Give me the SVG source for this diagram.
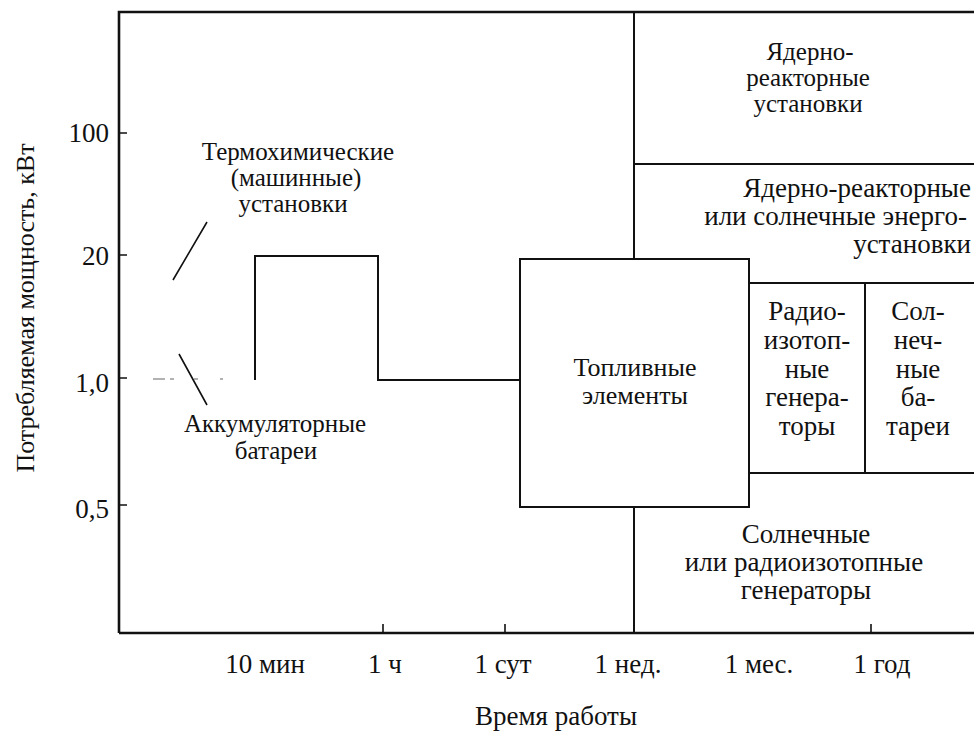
<svg xmlns="http://www.w3.org/2000/svg" width="974" height="733" viewBox="0 0 974 733">
<style>
text{font-family:'Liberation Serif','DejaVu Serif','Times New Roman',serif;font-size:27px;fill:#111}
.s{font-size:25px}
.m{font-size:26px}
.c{text-anchor:middle}
.e{text-anchor:end}
.ax{stroke:#111;stroke-width:2.6;fill:none}
.ln{stroke:#111;stroke-width:2;fill:none}
.th{stroke:#111;stroke-width:1.6;fill:none}
.ds{stroke:#999;stroke-width:1.6;fill:none}
</style>
<rect width="974" height="733" fill="#fff"/>
<g id="axes">
<path class="ax" d="M119,633 V12 H974 M119,633 H974"/>
<path class="th" d="M119,133 h8 M119,255 h8 M119,378 h8 M119,505 h8 M383,633 v-9 M505,633 v-9 M871,633 v-9"/>
<text class="e" x="109" y="142">100</text>
<text class="e" x="109" y="265">20</text>
<text class="e" x="109" y="392">1,0</text>
<text class="e" x="109" y="518">0,5</text>
<text class="c" x="265" y="673">10 мин</text>
<text class="c" x="385" y="673">1 ч</text>
<text class="c" x="503" y="673">1 сут</text>
<text class="c" x="628" y="673">1 нед.</text>
<text class="c" x="759" y="673">1 мес.</text>
<text class="c" x="882" y="673">1 год</text>
<text class="c" x="556" y="725">Время работы</text>
<text class="c m" transform="translate(34,308) rotate(-90)">Потребляемая мощность, кВт</text>
</g>
<g id="regions">
<path class="ln" d="M634,12 V259 M634,507 V633 M634,164 H974 M749,283 H974 M865,283 V473 M749,473 H974"/>
</g>
<g id="thermochem">
<text class="c s" x="298" y="160">Термохимические</text>
<text class="c s" x="296" y="186">(машинные)</text>
<text class="c s" x="293" y="212">установки</text>
</g>
<g id="batteries">
<text class="c s" x="275" y="432">Аккумуляторные</text>
<text class="c s" x="276" y="459">батареи</text>
</g>
<g id="fuel-cells">
<rect class="ln" x="520" y="259" width="229" height="248"/>
<text class="c m" x="635" y="376">Топливные</text>
<text class="c m" x="635" y="404">элементы</text>
</g>
<g id="nuclear">
<text class="c s" x="810" y="60">Ядерно-</text>
<text class="c s" x="808" y="86">реакторные</text>
<text class="c s" x="808" y="112">установки</text>
</g>
<g id="nuclear-or-solar">
<text class="e" x="971" y="197">Ядерно-реакторные</text>
<text class="e" x="967" y="225">или солнечные энерго-</text>
<text class="e" x="971" y="253">установки</text>
</g>
<g id="rtg">
<text class="c" x="807" y="320">Радио-</text>
<text class="c" x="807" y="349">изотоп-</text>
<text class="c" x="807" y="378">ные</text>
<text class="c" x="807" y="406">генера-</text>
<text class="c" x="807" y="435">торы</text>
</g>
<g id="solar-batteries">
<text class="c" x="918" y="320">Сол-</text>
<text class="c" x="918" y="349">неч-</text>
<text class="c" x="918" y="378">ные</text>
<text class="c" x="918" y="406">ба-</text>
<text class="c" x="918" y="435">тареи</text>
</g>
<g id="solar-or-rtg">
<text class="c" x="806" y="543">Солнечные</text>
<text class="c" x="804" y="571">или радиоизотопные</text>
<text class="c" x="806" y="599">генераторы</text>
</g>
<g id="connectors">
<path class="ln" d="M255,380 V256 H378 V380 H520"/>
<path class="th" d="M173,280 L207,222 M179,354 L207,405"/>
<path class="ds" d="M153,379 h12 M170,379 h4 M194,379 h4 M220,379 h3"/>
</g>
</svg>
